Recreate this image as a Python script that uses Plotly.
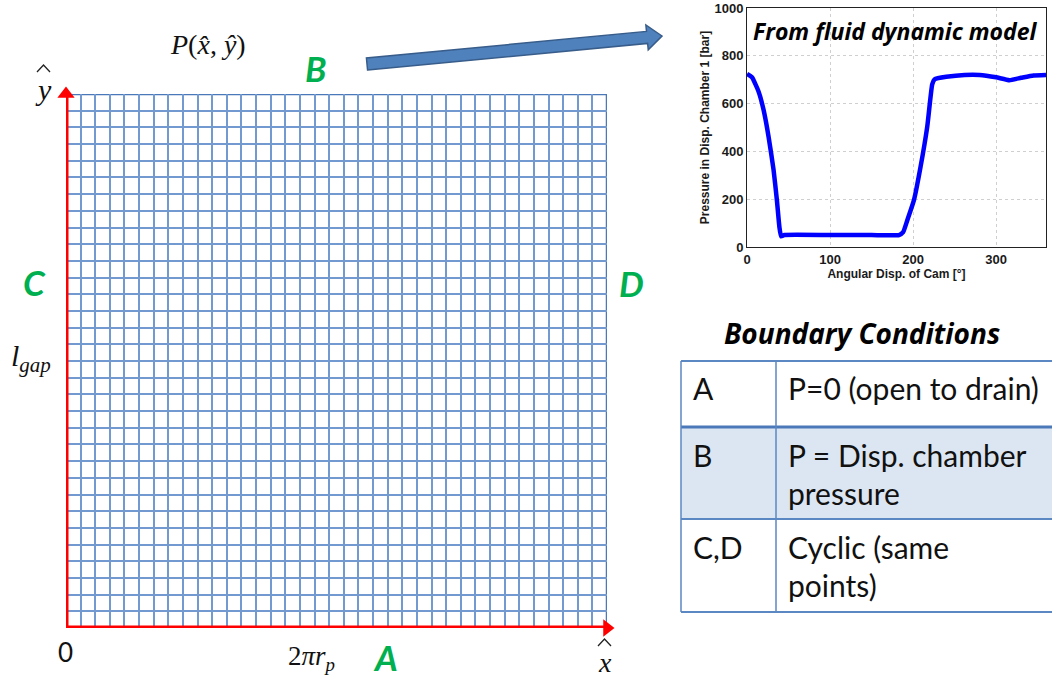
import math
import plotly.graph_objects as go

W, H = 1052, 679

# ---------------- data ----------------
# inset: pressure in displacement chamber vs cam angle
cam_angle = [0, 6, 14, 20, 26, 32, 36, 39, 41, 45, 100, 150, 183, 188, 193, 201, 209, 217,
             223, 226, 240, 262, 280, 300, 316, 330, 345, 360]
pressure = [724, 710, 650, 573, 461, 322, 196, 84, 45, 50, 50, 50, 50, 62, 112, 196, 336, 503,
            680, 702, 712, 720, 720, 710, 698, 708, 718, 720]
inset_xticks = [0, 100, 200, 300]
inset_yticks = [0, 200, 400, 600, 800, 1000]

# mesh of the unwrapped gap
n_cols = 37
n_rows = 32

# boundary-condition table
bc_edges = ["A", "B", "C,D"]
bc_desc = [["P=0 (open to drain)"], ["P = Disp. chamber", "pressure"], ["Cyclic (same", "points)"]]

# ---------------- helpers (pixel -> paper) ----------------
def px(x):
    return x / W


def py(y):
    return 1 - y / H


fig = go.Figure()

# inset curve
fig.add_trace(go.Scatter(x=cam_angle, y=pressure, mode="lines",
                         line=dict(color="#0000ff", width=4.5, shape="spline", smoothing=0.4),
                         xaxis="x2", yaxis="y2", showlegend=False, hoverinfo="skip"))

# red coordinate axes of the mesh (lines + arrow heads)
red = "#ff0000"
fig.add_trace(go.Scatter(x=[0, 0], y=[0, n_rows], mode="lines", line=dict(color=red, width=5),
                         xaxis="x", yaxis="y", showlegend=False, hoverinfo="skip", cliponaxis=False))
fig.add_trace(go.Scatter(x=[0, n_cols], y=[0, 0], mode="lines", line=dict(color=red, width=5),
                         xaxis="x", yaxis="y", showlegend=False, hoverinfo="skip", cliponaxis=False))
fig.add_trace(go.Scatter(x=[0], y=[n_rows], mode="markers",
                         marker=dict(symbol="triangle-up", size=15, color=red),
                         xaxis="x", yaxis="y", showlegend=False, hoverinfo="skip", cliponaxis=False))
fig.add_trace(go.Scatter(x=[n_cols], y=[0], mode="markers",
                         marker=dict(symbol="triangle-right", size=15, color=red),
                         xaxis="x", yaxis="y", showlegend=False, hoverinfo="skip", cliponaxis=False))

grid_col = "#7299d0"
border_col = "#4a78b8"
tick_font = dict(family="Liberation Sans", size=13, color="#1a1a1a", weight="bold")
title_font = dict(family="Liberation Sans", size=12, color="#1a1a1a", weight="bold")

fig.update_layout(
    width=W, height=H, margin=dict(l=0, r=0, t=0, b=0, autoexpand=False),
    paper_bgcolor="white", plot_bgcolor="rgba(0,0,0,0)",
    xaxis=dict(domain=[px(66), px(607)], range=[0, n_cols], dtick=1, tick0=0,
               showgrid=True, gridcolor=grid_col, gridwidth=1.6, showticklabels=False,
               zeroline=False, showline=False, ticks="", fixedrange=True, automargin=False),
    yaxis=dict(domain=[py(628), py(94)], range=[0, n_rows], dtick=1, tick0=0,
               showgrid=True, gridcolor=grid_col, gridwidth=1.6, showticklabels=False,
               zeroline=False, showline=False, ticks="", fixedrange=True, automargin=False),
    xaxis2=dict(domain=[px(747), px(1046)], range=[0, 360], anchor="y2",
                tickvals=inset_xticks, showgrid=True, gridcolor="#cfcfcf", griddash="dot",
                gridwidth=1, zeroline=False, showline=True, linecolor="#222", linewidth=1,
                mirror=True, ticks="", tickfont=tick_font, automargin=False,
                title=dict(text="Angular Disp. of Cam [°]", font=title_font, standoff=2)),
    yaxis2=dict(domain=[py(247), py(8)], range=[0, 1000], anchor="x2",
                tickvals=inset_yticks, showgrid=True, gridcolor="#cfcfcf", griddash="dot",
                gridwidth=1, zeroline=False, showline=True, linecolor="#222", linewidth=1,
                mirror=True, ticks="", tickfont=tick_font, automargin=False,
                title=dict(text="Pressure in Disp. Chamber 1 [bar]", font=title_font, standoff=2)),
)

shapes = []
# mesh outer border (drawn below the red axes)
shapes.append(dict(type="rect", xref="x", yref="y", x0=0, x1=n_cols, y0=0, y1=n_rows,
                   line=dict(color=border_col, width=2.5), layer="below"))

# block arrow pointing to the inset
def block_arrow(x0, y0, x1, y1, shaft=12, head_w=25, head_len=15):
    dx, dy = x1 - x0, y1 - y0
    L = math.hypot(dx, dy)
    ux, uy = dx / L, dy / L
    nx, ny = -uy, ux
    bx, by = x1 - ux * head_len, y1 - uy * head_len
    pts = [(x0 + nx * shaft / 2, y0 + ny * shaft / 2),
           (bx + nx * shaft / 2, by + ny * shaft / 2),
           (bx + nx * head_w / 2, by + ny * head_w / 2),
           (x1, y1),
           (bx - nx * head_w / 2, by - ny * head_w / 2),
           (bx - nx * shaft / 2, by - ny * shaft / 2),
           (x0 - nx * shaft / 2, y0 - ny * shaft / 2)]
    return "M " + " L ".join(f"{px(a):.5f},{py(b):.5f}" for a, b in pts) + " Z"

shapes.append(dict(type="path", xref="paper", yref="paper", path=block_arrow(367, 64, 662, 36),
                   fillcolor="#4f81bd", line=dict(color="#385d8a", width=1.5)))

# hat accents (drawn carets) above the axis symbols
def caret(xc, ytop, half_w=6.5, h=7):
    return (f"M {px(xc - half_w):.5f},{py(ytop + h):.5f} L {px(xc):.5f},{py(ytop):.5f} "
            f"L {px(xc + half_w):.5f},{py(ytop + h):.5f}")

shapes.append(dict(type="path", xref="paper", yref="paper", path=caret(43.5, 65),
                   line=dict(color="#222", width=1.3)))
shapes.append(dict(type="path", xref="paper", yref="paper", path=caret(604.5, 639),
                   line=dict(color="#222", width=1.3)))

# table
tbl_left, tbl_div, tbl_right = 681, 776, 1060
row_edges = [361, 427, 519, 612]
tbl_col = "#5b87c3"
shapes.append(dict(type="rect", xref="paper", yref="paper", x0=px(tbl_left), x1=px(tbl_right),
                   y0=py(row_edges[2]), y1=py(row_edges[1]), fillcolor="#dce6f2",
                   line=dict(width=0), layer="below"))
for i, ye in enumerate(row_edges):
    shapes.append(dict(type="line", xref="paper", yref="paper", x0=px(tbl_left), x1=px(tbl_right),
                       y0=py(ye), y1=py(ye),
                       line=dict(color=tbl_col if i != 1 else "#4a78b8", width=2 if i != 1 else 3)))
for xv in (tbl_left, tbl_div):
    shapes.append(dict(type="line", xref="paper", yref="paper", x0=px(xv), x1=px(xv),
                       y0=py(row_edges[-1]), y1=py(row_edges[0]),
                       line=dict(color=tbl_col, width=1.5)))

fig.update_layout(shapes=shapes)

ann = []


def txt(x, y, text, font, xanchor="center", yanchor="middle"):
    ann.append(dict(x=px(x), y=py(y), xref="paper", yref="paper", text=text, showarrow=False,
                    xanchor=xanchor, yanchor=yanchor, font=font, borderpad=0))


green = dict(family="Lato", size=35, color="#00b050", weight="bold", style="italic")
edge_labels = ["A", "B", "C", "D"]
edge_pos = [(385, 657), (316, 68), (34, 282), (631, 283)]
for lab, (x, y) in zip(edge_labels, edge_pos):
    txt(x, y, lab, green)

serif = dict(family="Liberation Serif", size=28, color="#111")
txt(208, 45, "<i>P</i>(<i>x\u0302</i>, <i>y\u0302</i>)", serif)
txt(43, 90, "<i>y</i>", dict(family="Liberation Serif", size=30, color="#111"))
txt(31, 358, "<i>l</i><sub><i>gap</i></sub>", dict(family="Liberation Serif", size=30, color="#111"))
txt(65, 652, "0", dict(family="Lato", size=26, color="#111"))
txt(311, 658, "2<i>πr</i><sub><i>p</i></sub>", dict(family="Liberation Serif", size=27, color="#111"))
txt(605, 662, "<i>x</i>", dict(family="Liberation Serif", size=28, color="#111"))

# inset title
txt(895, 31, "From fluid dynamic model",
    dict(family="Open Sans", size=23, color="#000", weight="bold", style="italic"))

# table
txt(862, 333, "Boundary Conditions",
    dict(family="Open Sans", size=28, color="#000", weight="bold", style="italic"))
cell_font = dict(family="Lato", size=30, color="#111")
for i, (edge, lines) in enumerate(zip(bc_edges, bc_desc)):
    top, bot = row_edges[i], row_edges[i + 1]
    y_first = top + 27 if len(lines) == 1 else top + 28
    txt(692, y_first, edge, cell_font, xanchor="left")
    for j, line in enumerate(lines):
        txt(787, y_first + j * 38, line, cell_font, xanchor="left")

fig.update_layout(annotations=ann)
fig.write_html("out.html")
